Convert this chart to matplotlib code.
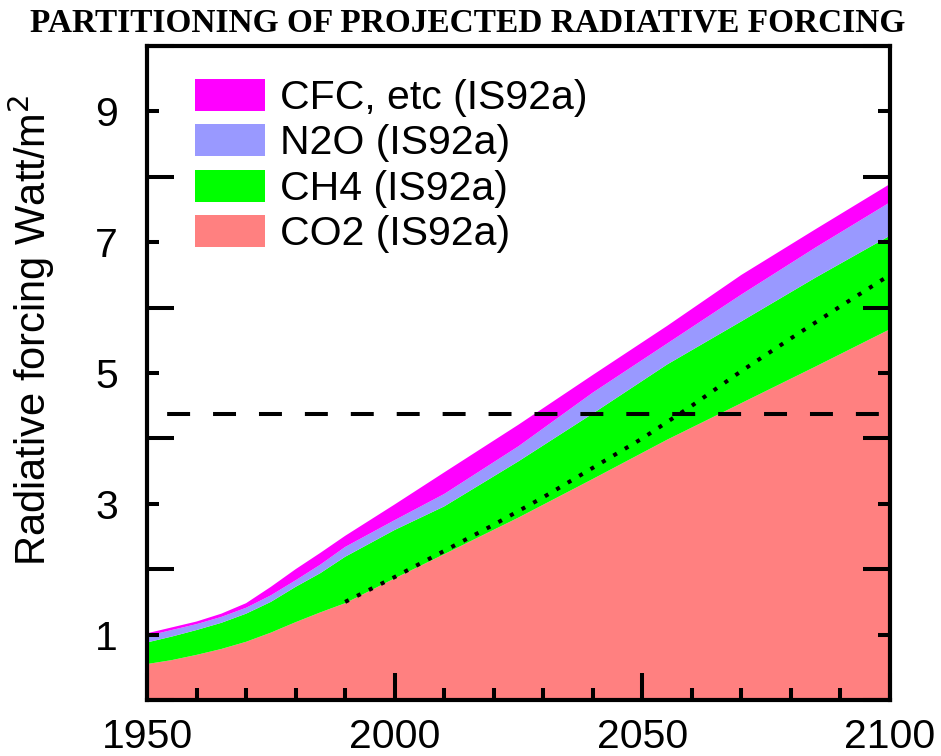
import matplotlib
matplotlib.use("Agg")
import matplotlib.pyplot as plt
from matplotlib.ticker import FixedLocator
import numpy as np

# ---- data ----
years = [1950, 1955, 1960, 1965, 1970, 1975, 1980, 1985, 1990, 2000, 2010, 2025, 2040, 2055, 2070, 2085, 2100]
co2 = [0.55, 0.61, 0.69, 0.78, 0.89, 1.03, 1.19, 1.34, 1.48, 1.86, 2.23, 2.79, 3.38, 3.98, 4.54, 5.10, 5.67]
ch4 = [0.33, 0.36, 0.38, 0.40, 0.43, 0.47, 0.54, 0.60, 0.71, 0.74, 0.73, 0.86, 1.00, 1.15, 1.25, 1.36, 1.43]
n2o = [0.10, 0.10, 0.09, 0.09, 0.09, 0.10, 0.10, 0.13, 0.15, 0.15, 0.19, 0.23, 0.32, 0.32, 0.41, 0.46, 0.51]
cfc = [0.04, 0.04, 0.04, 0.05, 0.07, 0.13, 0.17, 0.18, 0.17, 0.24, 0.33, 0.33, 0.27, 0.27, 0.30, 0.28, 0.28]

dot_years = [1990, 2000, 2010, 2020, 2030, 2040, 2050, 2060, 2070, 2080, 2090, 2100]
dot_vals = [1.50, 1.88, 2.28, 2.68, 3.10, 3.55, 4.00, 4.50, 5.03, 5.53, 6.02, 6.50]

dash_level = 4.38

labels = ["CO2 (IS92a)", "CH4 (IS92a)", "N2O (IS92a)", "CFC, etc (IS92a)"]
colors = ["#FF8080", "#00FF00", "#9999FF", "#FF00FF"]

xticks_major = [1950, 2000, 2050, 2100]
yticks_labeled = [1, 3, 5, 7, 9]

# ---- figure ----
plt.rcParams['font.family'] = ['Liberation Sans', 'DejaVu Sans']
fig = plt.figure(figsize=(9.41, 7.56), dpi=100)
ax = fig.add_axes([147/941, 56/756, 743/941, 654/756])

polys = ax.stackplot(years, co2, ch4, n2o, cfc, colors=colors, labels=labels, linewidth=0)

ax.plot(dot_years, dot_vals, color='black', lw=2.9, linestyle=(0, (1, 2.3)), dash_capstyle='butt')
ax.axhline(dash_level, color='black', lw=2.9, linestyle=(6.4, (5.7, 5.7)))

ax.set_xlim(1950, 2100)
ax.set_ylim(0, 10)

ax.xaxis.set_major_locator(FixedLocator(xticks_major))
ax.xaxis.set_minor_locator(FixedLocator(list(range(1950, 2101, 10))))
ax.yaxis.set_major_locator(FixedLocator(yticks_labeled))
ax.yaxis.set_minor_locator(FixedLocator(list(range(0, 11, 2))))

ax.tick_params(axis='x', which='major', direction='in', length=19.4, width=2.9, labelsize=29.5, pad=13, top=False)
ax.tick_params(axis='x', which='minor', direction='in', length=8.6, width=2.9, top=False)
ax.tick_params(axis='y', which='major', direction='in', length=8.6, width=2.9, labelsize=29.5, pad=21, right=True)
ax.tick_params(axis='y', which='minor', direction='in', length=19.4, width=2.9, right=True)

for s in ax.spines.values():
    s.set_linewidth(3)

ax.set_ylabel("Radiative forcing Watt/m$^2$", fontsize=30)
ax.yaxis.set_label_coords(-0.121, 0.566)

handles, labs = ax.get_legend_handles_labels()
leg = ax.legend(handles[::-1], labs[::-1], loc='upper left', bbox_to_anchor=(0.0646, 0.950),
                frameon=False, fontsize=29.5, handlelength=1.72, handleheight=0.82,
                handletextpad=0.36, labelspacing=0.18, borderpad=0, borderaxespad=0)

fig.text(0.497, 0.970, "PARTITIONING OF PROJECTED RADIATIVE FORCING", ha='center', va='center',
         fontsize=24, fontweight='bold', family=['Liberation Serif', 'DejaVu Serif'])

fig.savefig("out.png", dpi=100)
